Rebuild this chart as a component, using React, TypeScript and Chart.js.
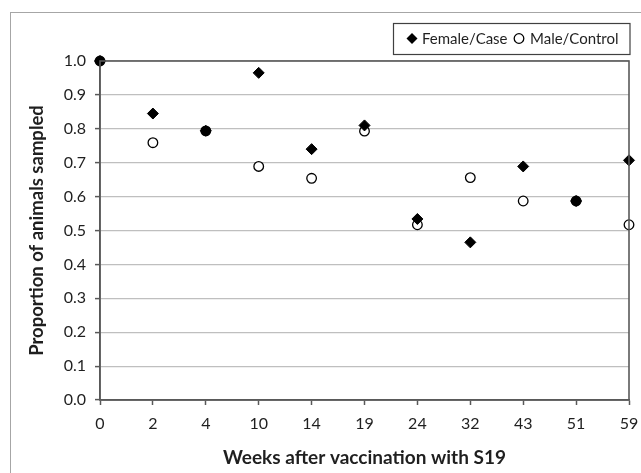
import React, { useEffect, useRef } from "react";
import { Chart, registerables } from "chart.js";

Chart.register(...registerables);

const weeks = ["0", "2", "4", "10", "14", "19", "24", "32", "43", "51", "59"];
const femaleCase = [1.0, 0.845, 0.794, 0.965, 0.74, 0.81, 0.534, 0.465, 0.689, 0.587, 0.707];
const maleControl = [1.0, 0.759, 0.794, 0.689, 0.654, 0.793, 0.517, 0.656, 0.587, 0.587, 0.517];
const yTicks = [0, 0.1, 0.2, 0.3, 0.4, 0.5, 0.6, 0.7, 0.8, 0.9, 1.0];
const seriesNames = ["Female/Case", "Male/Control"];
const xTitle = "Weeks after vaccination with S19";
const yTitle = "Proportion of animals sampled";

const FONT = "Lato";
const TEXT = "#1f1f1f";
const AXIS = "#595959";
const GRID = "#bfbfbf";

const frameAndLegend = {
  id: "frameAndLegend",
  afterDatasetsDraw(chart: any) {
    const { ctx, chartArea } = chart;
    ctx.save();
    ctx.strokeStyle = AXIS;
    ctx.lineWidth = 1.6;
    ctx.strokeRect(chartArea.left, chartArea.top, chartArea.right - chartArea.left, chartArea.bottom - chartArea.top);
    ctx.restore();
  },
  afterDraw(chart: any) {
    const { ctx } = chart;
    ctx.save();
    ctx.strokeStyle = "#404040";
    ctx.lineWidth = 1.2;
    ctx.strokeRect(393.5, 23.5, 236.5, 31);
    const dx = 412, dy = 38.5, r = 5.5;
    ctx.beginPath();
    ctx.moveTo(dx, dy - r);
    ctx.lineTo(dx + r, dy);
    ctx.lineTo(dx, dy + r);
    ctx.lineTo(dx - r, dy);
    ctx.closePath();
    ctx.fillStyle = "#000";
    ctx.fill();
    ctx.beginPath();
    ctx.arc(519, 38.5, 4.8, 0, Math.PI * 2);
    ctx.fillStyle = "#fff";
    ctx.fill();
    ctx.strokeStyle = "#000";
    ctx.lineWidth = 1.3;
    ctx.stroke();
    ctx.font = `15px ${FONT}`;
    ctx.fillStyle = TEXT;
    ctx.textBaseline = "middle";
    ctx.fillText(seriesNames[0], 422, 39);
    ctx.fillText(seriesNames[1], 530, 39);
    ctx.restore();
  },
};

export default function App() {
  const ref = useRef<HTMLCanvasElement>(null);
  useEffect(() => {
    if (!ref.current) return;
    const chart = new Chart(ref.current, {
      type: "line",
      data: {
        labels: weeks,
        datasets: [
          {
            label: seriesNames[0],
            data: femaleCase,
            showLine: false,
            pointStyle: "rectRot",
            pointRadius: 5.5,
            pointHoverRadius: 5.5,
            pointBackgroundColor: "#000",
            pointBorderColor: "#000",
            pointBorderWidth: 1,
          },
          {
            label: seriesNames[1],
            data: maleControl,
            showLine: false,
            pointStyle: "circle",
            pointRadius: 4.8,
            pointHoverRadius: 4.8,
            pointBackgroundColor: maleControl.map((v, i) => (v === femaleCase[i] ? "#000" : "#fff")),
            pointBorderColor: "#000",
            pointBorderWidth: 1.3,
          },
        ],
      },
      options: {
        animation: false,
        responsive: false,
        devicePixelRatio: 1,
        clip: false,
        layout: { padding: { left: 20, right: 12, top: 61, bottom: 0 } },
        plugins: { legend: { display: false }, tooltip: { enabled: false } },
        scales: {
          x: {
            type: "category",
            offset: false,
            grid: { drawOnChartArea: false, tickLength: 5, tickColor: AXIS, tickWidth: 1.5 },
            border: { color: AXIS, width: 1.6 },
            ticks: { color: TEXT, font: { family: FONT, size: 16 }, padding: 9, maxRotation: 0, autoSkip: false },
            title: { display: true, text: xTitle, color: TEXT, font: { family: FONT, size: 19, weight: "bold" }, padding: { top: 4, bottom: 4 } },
            afterFit: (s: any) => { s.height = 73; s.paddingLeft = 0; s.paddingRight = 0; },
          },
          y: {
            min: 0,
            max: 1,
            afterBuildTicks: (s: any) => { s.ticks = yTicks.map((v) => ({ value: v })); },
            grid: { color: GRID, lineWidth: 1.2, tickLength: 5, tickColor: AXIS, tickWidth: 1.5 },
            border: { color: AXIS, width: 1.6 },
            ticks: { color: TEXT, font: { family: FONT, size: 16 }, padding: 9, callback: (v: any) => Number(v).toFixed(1) },
            title: { display: true, text: yTitle, color: TEXT, font: { family: FONT, size: 18.5, weight: "bold" }, padding: { top: 6, bottom: 0 } },
            afterFit: (s: any) => { s.width = 80; s.paddingTop = 0; s.paddingBottom = 0; },
          },
        },
      },
      plugins: [frameAndLegend],
    });
    return () => chart.destroy();
  }, []);
  return (
    <div style={{ position: "fixed", left: 0, top: 0, width: 641, height: 473, background: "#fff" }}>
      <div style={{ position: "absolute", left: 10, top: 12, right: -5, bottom: -5, borderTop: "1.5px solid #a6a6a6", borderLeft: "1.5px solid #a6a6a6" }} />
      <canvas ref={ref} width={641} height={473} style={{ position: "absolute", left: 0, top: 0 }} />
    </div>
  );
}
